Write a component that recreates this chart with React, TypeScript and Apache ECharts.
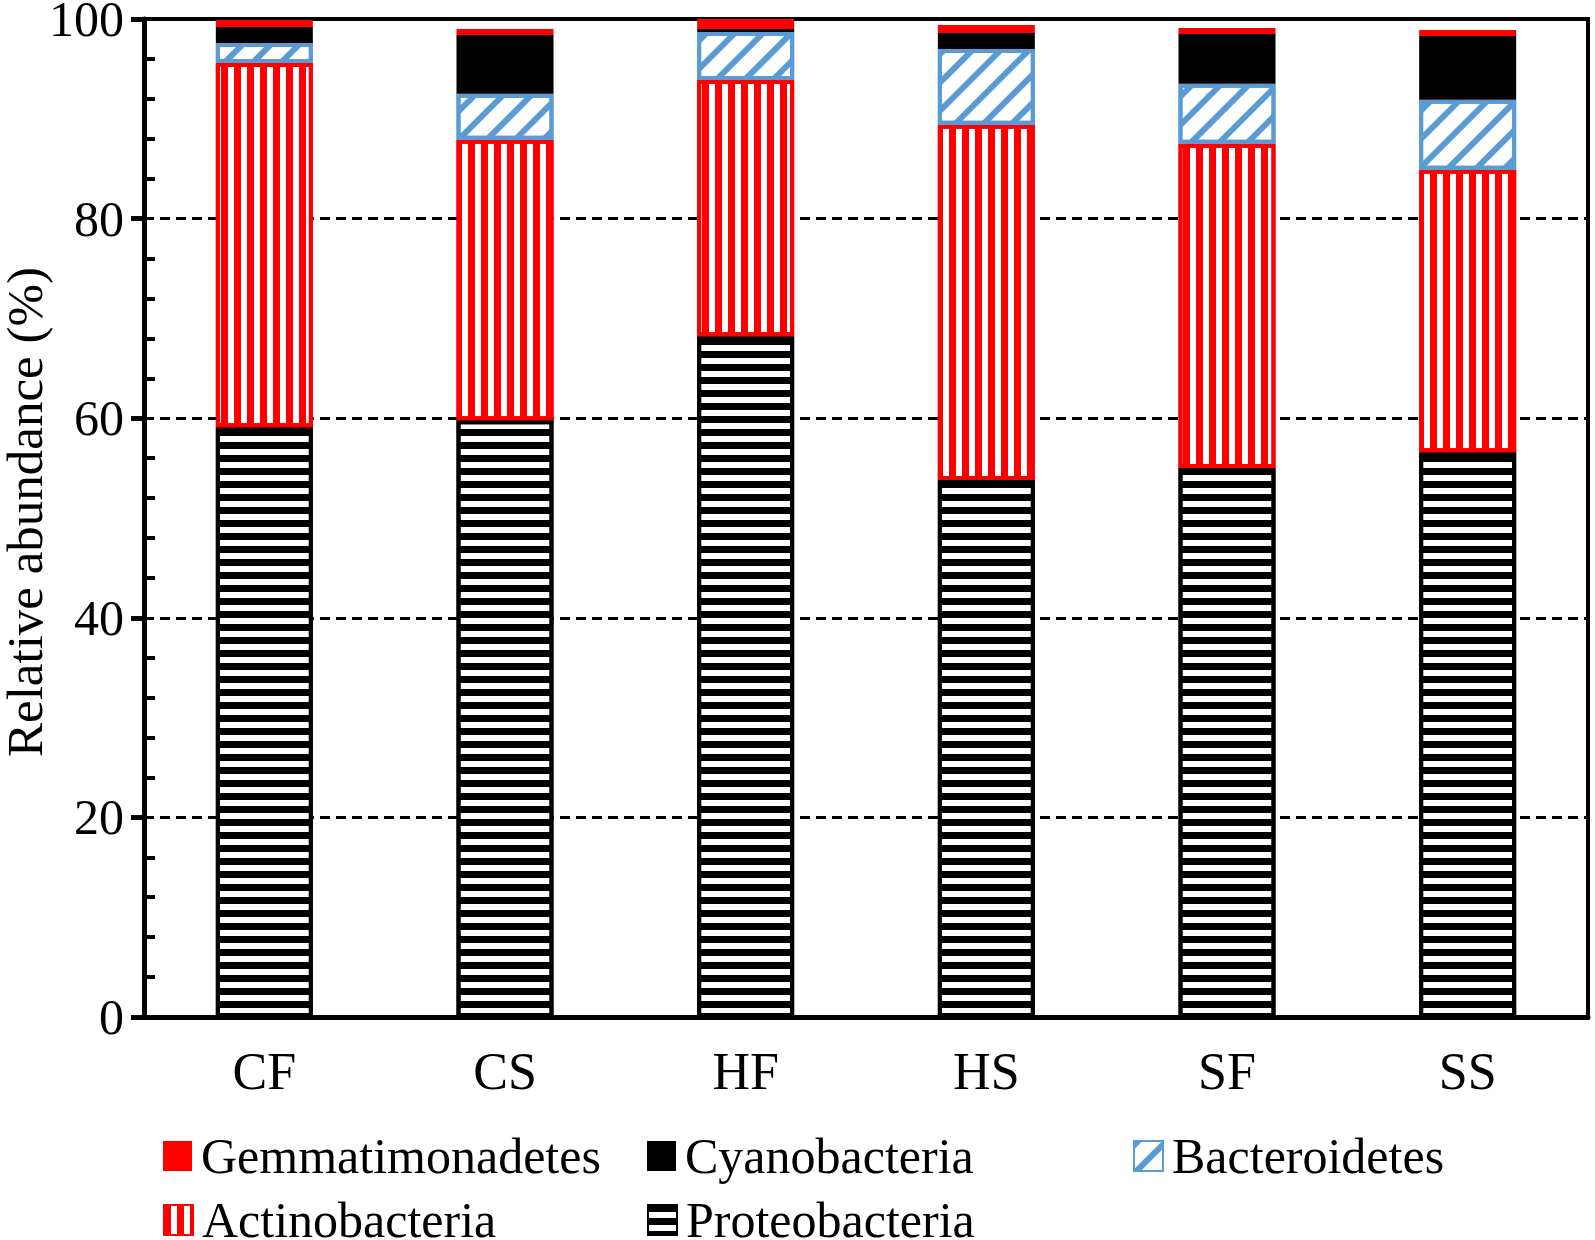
import React, { useEffect, useRef } from 'react';
import * as echarts from 'echarts';

const categories = ['CF', 'CS', 'HF', 'HS', 'SF', 'SS'];
const proteobacteria = [59.1, 59.8, 68.2, 53.8, 55.0, 56.6];
const actinobacteria = [36.5, 28.1, 25.7, 35.6, 32.5, 28.3];
const bacteroidetes = [2.0, 4.6, 4.8, 7.6, 6.0, 7.0];
const cyanobacteria = [1.6, 5.9, 0.3, 1.6, 5.0, 6.4];
const gemmatimonadetes = [0.7, 0.6, 1.0, 0.8, 0.6, 0.6];
const legendItems = ['Gemmatimonadetes', 'Cyanobacteria', 'Bacteroidetes', 'Actinobacteria', 'Proteobacteria'];
const yTitle = 'Relative abundance (%)';

export default function App() {
  const ref = useRef<HTMLDivElement>(null);
  useEffect(() => {
    document.body.style.margin = '0';
    const chart = echarts.init(ref.current!, null, { renderer: 'svg' });
    const font = 'Liberation Serif';
    const RED = '#FF0000';
    const BLUE = '#5B9BD5';
    const BLACK = '#000000';
    const bw = 97;
    const legendPos = [
      [163, 1131],
      [647, 1131],
      [1133, 1131],
      [163, 1195],
      [647, 1195],
    ];
    const legends = legendItems.map((name, i) => ({
      left: legendPos[i][0],
      top: legendPos[i][1],
      padding: 0,
      itemWidth: 29,
      itemHeight: 30,
      selectedMode: false,
      icon: 'rect',
      textStyle: { fontFamily: font, fontSize: 50, color: BLACK, lineHeight: 30, padding: [0, 0, 0, 4] },
      data: [name],
    }));
    chart.setOption({
      animation: false,
      backgroundColor: '#fff',
      textStyle: { fontFamily: font },
      grid: {
        left: 144,
        right: 7,
        top: 19,
        bottom: 223,
        show: true,
        borderColor: BLACK,
        borderWidth: 4,
        containLabel: false,
        outerBoundsMode: 'none',
      },
      graphic: [
        {
          type: 'text',
          x: 25,
          y: 512,
          rotation: Math.PI / 2,
          style: {
            text: yTitle,
            fontFamily: font,
            fontSize: 51,
            fill: BLACK,
            align: 'center',
            verticalAlign: 'middle',
          },
        },
      ],
      legend: legends,
      xAxis: {
        type: 'category',
        data: categories,
        axisLine: { show: true, lineStyle: { color: BLACK, width: 5 } },
        axisTick: { show: false },
        axisLabel: { fontFamily: font, fontSize: 52, color: BLACK, margin: 28 },
        splitLine: { show: false },
      },
      yAxis: [
        {
          type: 'value',
          min: 0,
          max: 100,
          interval: 20,
          position: 'left',
          axisLine: { show: true, lineStyle: { color: BLACK, width: 5 } },
          axisTick: { show: true, inside: false, length: 13, lineStyle: { color: BLACK, width: 5 } },
          axisLabel: { fontFamily: font, fontSize: 50, color: BLACK, margin: 20 },
          splitLine: { show: true, lineStyle: { color: BLACK, type: [10, 6], width: 3 } },
        },
        {
          type: 'value',
          min: 0,
          max: 100,
          interval: 20,
          position: 'left',
          axisLine: { show: false },
          axisTick: { show: false, inside: true },
          minorTick: { show: true, splitNumber: 5, length: 11, lineStyle: { color: BLACK, width: 4 } },
          axisLabel: { show: false },
          splitLine: { show: false },
        },
      ],
      series: [
        {
          name: 'Proteobacteria',
          type: 'bar',
          stack: 'total',
          barWidth: bw,
          data: proteobacteria,
          itemStyle: {
            color: '#fff',
            borderColor: BLACK,
            borderWidth: 4,
            decal: { symbol: 'rect', symbolSize: 1, color: BLACK, dashArrayX: [20, 0], dashArrayY: [7, 6] },
          },
        },
        {
          name: 'Actinobacteria',
          type: 'bar',
          stack: 'total',
          barWidth: bw,
          data: actinobacteria,
          itemStyle: {
            color: '#fff',
            borderColor: RED,
            borderWidth: 4,
            decal: { symbol: 'rect', symbolSize: 1, color: RED, dashArrayX: [7, 6], dashArrayY: [20, 0] },
          },
        },
        {
          name: 'Bacteroidetes',
          type: 'bar',
          stack: 'total',
          barWidth: bw,
          data: bacteroidetes,
          itemStyle: {
            color: '#fff',
            borderColor: BLUE,
            borderWidth: 4,
            decal: {
              symbol: 'rect',
              symbolSize: 1,
              color: BLUE,
              dashArrayX: [20, 0],
              dashArrayY: [6, 14],
              rotation: -Math.PI / 4,
            },
          },
        },
        {
          name: 'Cyanobacteria',
          type: 'bar',
          stack: 'total',
          barWidth: bw,
          data: cyanobacteria,
          itemStyle: { color: BLACK },
        },
        {
          name: 'Gemmatimonadetes',
          type: 'bar',
          stack: 'total',
          barWidth: bw,
          data: gemmatimonadetes,
          itemStyle: { color: RED },
        },
      ],
    });
    return () => chart.dispose();
  }, []);
  return <div ref={ref} style={{ width: 1595, height: 1240 }} />;
}
